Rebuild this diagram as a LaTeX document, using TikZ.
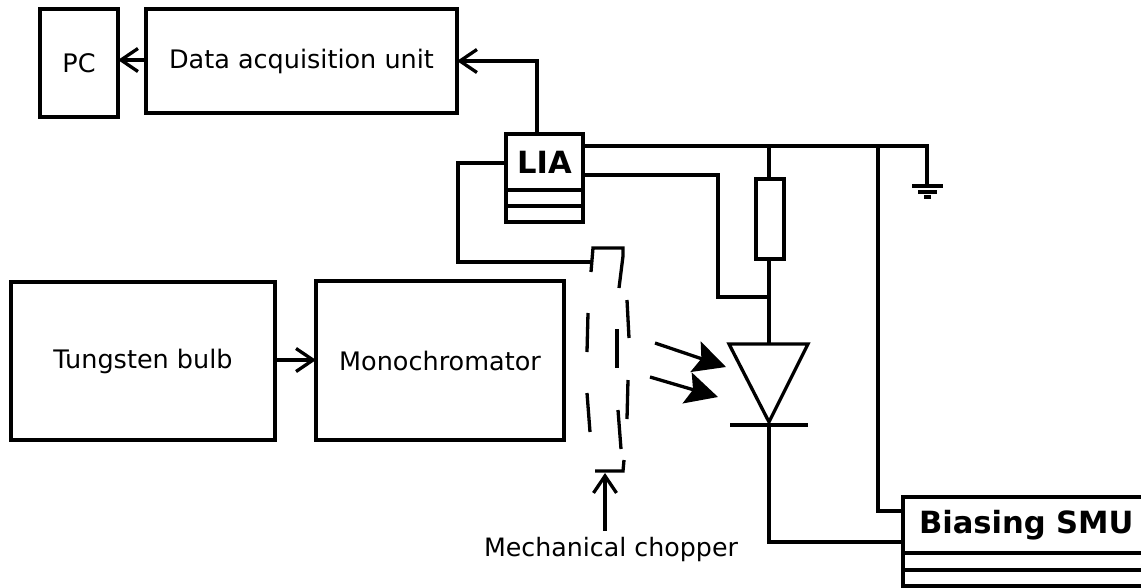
\documentclass[tikz,border=0pt]{standalone}
\usepackage{fontspec}
\setmainfont{DejaVu Sans}
\usepackage{tikz}
\usetikzlibrary{
	arrows.meta,
	calc
}
\tikzset{
	wire/.style={line width=3.3pt, line join=miter},
	openarrow/.style={wire, -{Straight Barb[length=17pt, width=23pt, line width=3.3pt]}},
	lightarrow/.style={line width=3.3pt, -{Stealth[length=32pt, width=32pt, inset=6pt]}},
	unitbox/.style={draw, line width=3.3pt, inner sep=0pt, outer sep=0pt, font=\fontsize{25.5}{30}\selectfont},
	instbox/.style={unitbox, font=\bfseries\fontsize{30.6}{36}\selectfont}
}
\begin{document}
\begin{tikzpicture}[x=1pt, y=-1pt]
		\useasboundingbox (0,0) rectangle (1141,587);
		% units
		\node[unitbox, minimum width=78pt, minimum height=108pt] (pc) at (79,63) {PC};
		\node[unitbox, minimum width=311pt, minimum height=104pt] (daq) at (301.5,61) {Data acquisition unit};
		\node[unitbox, minimum width=264pt, minimum height=158pt] (bulb) at (143,361) {Tungsten bulb};
		\node[unitbox, minimum width=248pt, minimum height=159pt] (mono) at (440,360.5) {Monochromator};
		\node[unitbox, minimum width=28pt, minimum height=80pt] (res) at (770,219) {};
		% instruments
		\node[instbox, minimum width=77pt, minimum height=56pt] (lia) at (544.5,162) {LIA};
		\node[unitbox, minimum width=77pt, minimum height=16pt] (liaA) at (544.5,198) {};
		\node[unitbox, minimum width=77pt, minimum height=16pt] (liaB) at (544.5,214) {};
		\node[instbox, minimum width=250pt, minimum height=56pt, text width=218pt, align=left] (smu) at (1028,525) {Biasing SMU};
		\node[unitbox, minimum width=250pt, minimum height=17pt] (smuA) at (1028,561.5) {};
		\node[unitbox, minimum width=250pt, minimum height=16pt] (smuB) at (1028,578) {};
		\node[font=\fontsize{25.3}{30}\selectfont, inner sep=0pt, outer ysep=7pt] (chopname) at (611,550) {Mechanical chopper};
		% diode
		\coordinate (dA) at (729,344);
		\coordinate (dB) at (808,344);
		\coordinate (dC) at (769,422);
		\coordinate (dT) at (769,344);
		\coordinate (dK) at (769,425);
		\draw[wire] (dA)--(dB)--(dC)--cycle;
		\draw[wire] (730,425)--(808,425);
		% wiring
		\coordinate (J) at (769,297);
		\coordinate (K) at (769,146);
		\coordinate (L) at (878,146);
		\coordinate (G) at (927,186);
		\coordinate (T) at (537,61);
		\draw[openarrow] (daq.west |- 0,60)--(pc.east |- 0,60);
		\draw[openarrow] (bulb.east |- 0,360)--(mono.west |- 0,360);
		\draw[wire] (T |- lia.north)--(T);
		\draw[openarrow] ($(T)+(1.65,0)$)--(daq.east |- T);
		\draw[wire] (583,146)--(927,146)--(G);
		\draw[wire] (583,175)--(718,175)--(718,297)--(J);
		\draw[wire] (K)--(K |- res.north);
		\draw[wire] (K |- res.south)--(dT);
		\draw[wire] (L)--(878,511)--(903,511);
		\draw[wire] (dK)--(769,542)--(903,542);
		\draw[wire] (506,163)--(458,163)--(458,262)--(591,262);
		% ground
		\draw[wire] (912,186)--(943,186);
		\draw[wire] (918,192)--(937,192);
		\draw[wire] (924,197)--(931,197);
		% chopper
		\draw[wire] (591,272)--(593,248)--(623,248)--(623,256)--(619,288);
		\foreach \xa/\ya/\xb/\yb in {627/300/629/338, 588/313/587/352, 617/329/617/368, 628/380/627/419, 587/393/590/432, 618/410/621/449}
		\draw[wire] (\xa,\ya)--(\xb,\yb);
		\draw[wire] (624,460)--(623,471)--(595,471);
		\draw[openarrow] (chopname.north -| 605,0)--(605,473);
		% light
		\draw[lightarrow] (655,343)--(726,367);
		\draw[lightarrow] (650,377)--(718,397);
	\end{tikzpicture}
\end{document}
